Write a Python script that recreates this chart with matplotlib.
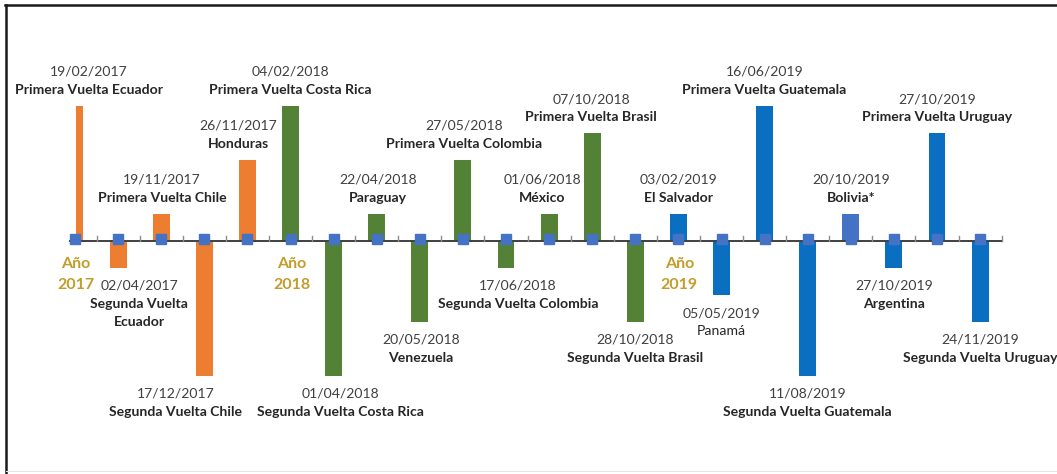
import matplotlib
matplotlib.use("Agg")
import matplotlib.pyplot as plt
from matplotlib.lines import Line2D
from matplotlib.patches import Rectangle
from matplotlib.transforms import ScaledTranslation

# ---------------- data ----------------
dates = ["19/02/2017", "02/04/2017", "19/11/2017", "17/12/2017", "26/11/2017",
         "04/02/2018", "01/04/2018", "22/04/2018", "20/05/2018", "27/05/2018",
         "17/06/2018", "01/06/2018", "07/10/2018", "28/10/2018",
         "03/02/2019", "05/05/2019", "16/06/2019", "11/08/2019", "20/10/2019",
         "27/10/2019", "27/10/2019", "24/11/2019"]
names = ["Primera Vuelta Ecuador", "Segunda Vuelta\nEcuador", "Primera Vuelta Chile",
         "Segunda Vuelta Chile", "Honduras", "Primera Vuelta Costa Rica",
         "Segunda Vuelta Costa Rica", "Paraguay", "Venezuela", "Primera Vuelta Colombia",
         "Segunda Vuelta Colombia", "México", "Primera Vuelta Brasil",
         "Segunda Vuelta Brasil", "El Salvador", "Panamá", "Primera Vuelta Guatemala",
         "Segunda Vuelta Guatemala", "Bolivia*", "Argentina", "Primera Vuelta Uruguay",
         "Segunda Vuelta Uruguay"]
values = [5, -1, 1, -5, 3, 5, -5, 1, -3, 3, -1, 1, 4, -3, 1, -2, 5, -5, 1, -1, 4, -3]
years = ["2017"] * 5 + ["2018"] * 9 + ["2019"] * 8
year_labels = ["Año\n2017", "Año\n2018", "Año\n2019"]
year_start_idx = [0, 5, 14]

# ---------------- style ----------------
DPI = 100
W, H = 1057, 474
FONT = ["Lato", "DejaVu Sans"]
plt.rcParams["font.family"] = FONT

year_colors = {"2017": "#ED7D31", "2018": "#538135", "2019": "#0B6FC1"}
special_colors = {18: "#4472C4"}
marker_color = "#4472C4"
year_text_color = "#C29D2B"
date_color = "#404040"
name_color = "#262626"
normal_weight_names = {15}

# px geometry
x0_px, step_px = 75.0, 43.1
axis_y_px = 241.0
unit_px = 27.0

# horizontal label shifts (px), relative to the category centre
label_dx = [14, 21, 1, -29, -9, 0, 7, 1, 1, 1, 12, -7, -1, 0, 0, 0, 0, 0, 0, 0, 0, 0]

def pt(px):
    return px * 72.0 / DPI

fig = plt.figure(figsize=(W / DPI, H / DPI), dpi=DPI)
ax = fig.add_axes([0, 0, 1, 1])
ax.set_xlim(-x0_px / step_px, (W - x0_px) / step_px)
ax.set_ylim(-(H - axis_y_px) / unit_px, axis_y_px / unit_px)
ax.axis("off")

n = len(values)
xs = list(range(n))
colors = [special_colors.get(i, year_colors[years[i]]) for i in xs]

bars = ax.bar(xs, values, width=0.39, color=colors, zorder=2)
clip = Rectangle((0.02, -20), 100, 40, transform=ax.transData)
for b in bars:
    b.set_clip_path(clip)

# horizontal axis line + tick marks
ax.add_line(Line2D([-0.12, n - 0.5], [0, 0], color="#404040", lw=1.4, zorder=3,
                   clip_on=False))
tick_len = 5 / unit_px
for i in range(n):
    ax.add_line(Line2D([i + 0.5, i + 0.5], [0, tick_len], color="#8c8c8c", lw=1.0,
                       zorder=3, clip_on=False))

# small square markers sitting on the axis
shift = ScaledTranslation(0, 2 / DPI, fig.dpi_scale_trans)
ax.plot(xs, [0] * n, linestyle="none", marker="s", markersize=pt(10),
        markerfacecolor=marker_color, markeredgecolor=marker_color,
        transform=ax.transData + shift, zorder=4, clip_on=False)

# event labels
fs_date = pt(14)
fs_name = pt(14)
line_px = 18
for i in xs:
    v = values[i]
    dx = pt(label_dx[i])
    name_lines = names[i].split("\n")
    weight = "normal" if i in normal_weight_names else "bold"
    if v > 0:
        name_offsets = [-16 - line_px * (len(name_lines) - 1 - k) for k in range(len(name_lines))]
        date_off = name_offsets[0] - line_px
    else:
        date_off = 18
        name_offsets = [18 + line_px * (k + 1) for k in range(len(name_lines))]
    sign = 1 if v > 0 else -1
    ax.annotate(dates[i], xy=(i, v), xytext=(dx, pt(-date_off) if v > 0 else pt(-date_off)),
                textcoords="offset points", ha="center", va="center",
                fontsize=fs_date, color=date_color, annotation_clip=False)
    for k, ln in enumerate(name_lines):
        ax.annotate(ln, xy=(i, v), xytext=(dx, pt(-name_offsets[k])),
                    textcoords="offset points", ha="center", va="center",
                    fontsize=fs_name, fontweight=weight, color=name_color,
                    annotation_clip=False)

# fix sign for positive labels (offsets above bar)
for t in list(ax.texts):
    pass

# year labels
for lbl, idx in zip(year_labels, year_start_idx):
    for k, ln in enumerate(lbl.split("\n")):
        ax.annotate(ln, xy=(idx, 0), xytext=(pt(1), pt(-(23 + 21 * k))),
                    textcoords="offset points", ha="center", va="center",
                    fontsize=pt(16), fontweight="bold", color=year_text_color,
                    annotation_clip=False)

# frame lines (top and left) of the picture
fig.add_artist(Line2D([5 / W, 1], [1 - 5 / H, 1 - 5 / H], transform=fig.transFigure,
                      color="#1a1a1a", lw=pt(2.5)))
fig.add_artist(Line2D([6 / W, 6 / W], [0, 1 - 5 / H], transform=fig.transFigure,
                      color="#1a1a1a", lw=pt(2.5)))
fig.add_artist(Line2D([6 / W, 1], [3 / H, 3 / H], transform=fig.transFigure,
                      color="#e6e6e6", lw=pt(1)))

fig.savefig("out.png", dpi=DPI)
